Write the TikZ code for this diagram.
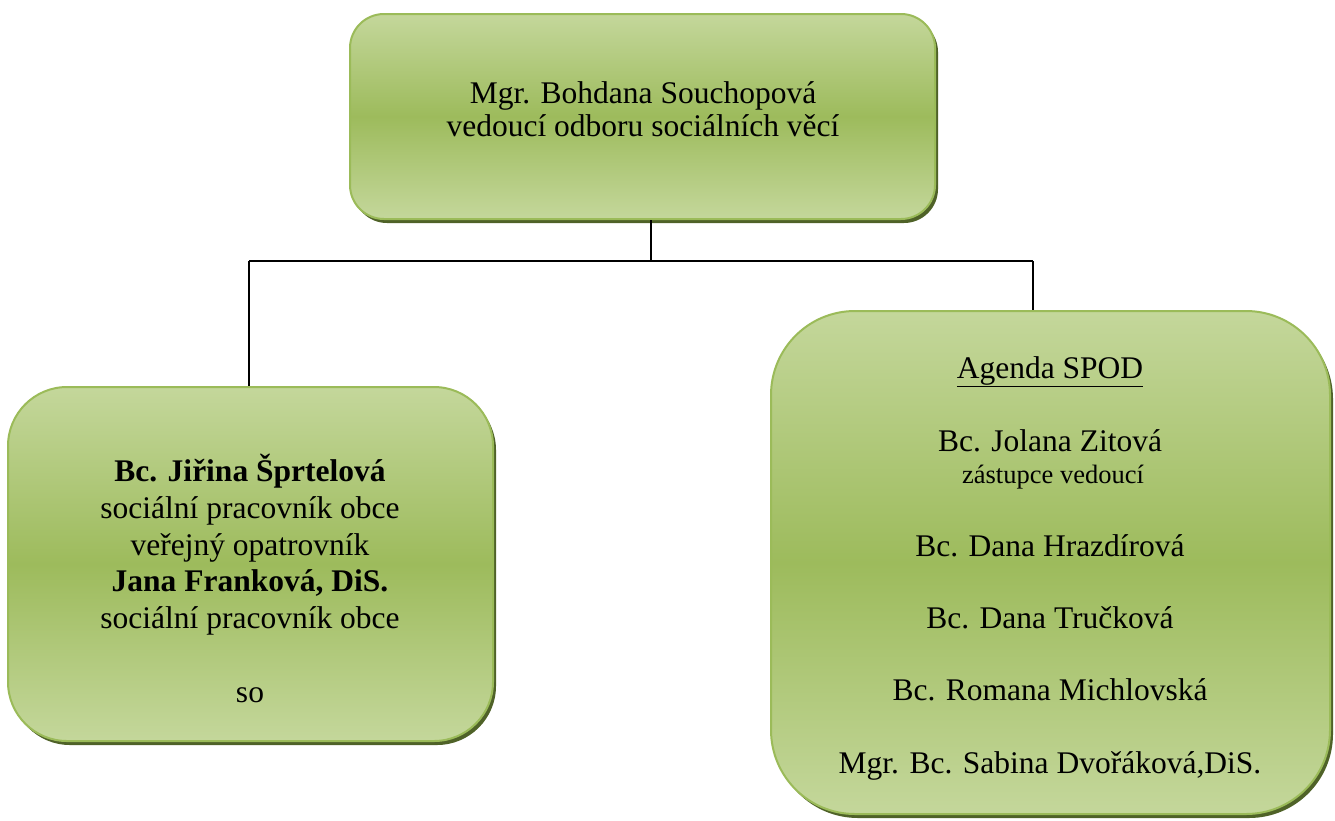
\documentclass[tikz,border=0pt]{standalone}
\usepackage{fontspec}
\setmainfont{Liberation Serif}
\usetikzlibrary{shadows}
\definecolor{lightgreen}{RGB}{196,215,155}
\definecolor{midgreen}{RGB}{157,187,92}
\definecolor{bordergreen}{RGB}{155,187,89}
\definecolor{shadowgreen}{RGB}{79,98,40}
\tikzset{
  greenbox/.style={draw=bordergreen, line width=2pt, top color=lightgreen, bottom color=lightgreen, middle color=midgreen,
    general shadow={fill=shadowgreen, shadow xshift=3pt, shadow yshift=-4pt}, inner sep=0pt},
  txt/.style={anchor=base, font=\fontsize{31.5}{35}\selectfont, inner sep=0pt},
  smalltxt/.style={anchor=base, font=\fontsize{26.5}{30}\selectfont, inner sep=0pt},
  conn/.style={draw=black, line width=1.1pt}
}
\begin{document}
\begin{tikzpicture}[x=1pt,y=-1pt]
\useasboundingbox (0,0) rectangle (1335,820);
% boxes
\node[greenbox, rounded corners=34pt, minimum width=585pt, minimum height=205pt] (top) at (642.5,116.5) {};
\node[greenbox, rounded corners=59pt, minimum width=485pt, minimum height=354pt] (left) at (250.5,564) {};
\node[greenbox, rounded corners=84pt, minimum width=559pt, minimum height=503pt] (right) at (1050.5,562.5) {};
% connectors
\coordinate (j) at (651,261);
\coordinate (hL) at (249,261);
\coordinate (hR) at (1033,261);
\draw[conn] (top.south -| j) -- (j);
\draw[conn] (hL) -- (hR);
\draw[conn] (hL) -- (hL |- left.north);
\draw[conn] (hR) -- (hR |- right.north);
% top text
\node[txt] (t1) at (643,103) {Mgr. Bohdana Souchopová};
\node[txt] (t2) at (643,136) {vedoucí odboru sociálních věcí};
% left text
\node[txt] (l1) at (250,481) {\textbf{Bc. Jiřina Šprtelová}};
\node[txt] (l2) at (250,518) {sociální pracovník obce};
\node[txt] (l3) at (250,555) {veřejný opatrovník};
\node[txt] (l4) at (250,591) {\textbf{Jana Franková, DiS.}};
\node[txt] (l5) at (250,628) {sociální pracovník obce};
\node[txt] (l6) at (250,702) {so};
% right text
\node[txt] (r1) at (1050,378) {\underline{Agenda SPOD}};
\node[txt] (r2) at (1050,451) {Bc. Jolana Zitová};
\node[smalltxt] (r3) at (1053,483) {zástupce vedoucí};
\node[txt] (r4) at (1050,556) {Bc. Dana Hrazdírová};
\node[txt] (r5) at (1050,628) {Bc. Dana Tručková};
\node[txt] (r6) at (1050,700) {Bc. Romana Michlovská};
\node[txt] (r7) at (1050,773) {Mgr. Bc. Sabina Dvořáková,DiS.};
\end{tikzpicture}
\end{document}
